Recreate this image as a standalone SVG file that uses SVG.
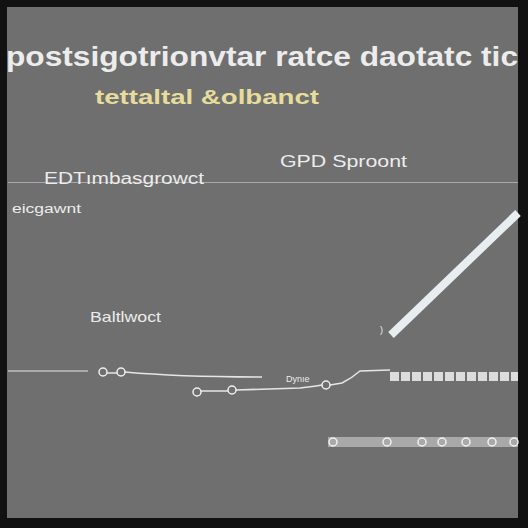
<svg xmlns="http://www.w3.org/2000/svg" width="528" height="528" viewBox="0 0 528 528">
<style>
.t{font-family:"Liberation Sans",Arial,sans-serif;fill:#ececec}
.ln{stroke:#e6e6e6;fill:none}
.c{fill:none;stroke:#f0f0f0;stroke-width:1.5}
</style>
<rect width="528" height="528" fill="#111"/>
<rect x="7" y="7" width="511" height="511" fill="#6f6f6f"/>
<g id="title">
<text class="t" x="6" y="66" font-size="27" font-weight="bold" textLength="512" lengthAdjust="spacingAndGlyphs">postsigotrionvtar ratce daotatc tic</text>
<text class="t" x="95" y="104" font-size="20" font-weight="bold" style="fill:#e6dc9c" textLength="224" lengthAdjust="spacingAndGlyphs">tettaltal &amp;olbanct</text>
</g>
<g id="connectors">
<line x1="8" y1="182.5" x2="518" y2="182.5" stroke-width="1" stroke="#a8a8a8"/>
<line x1="391" y1="335" x2="518" y2="213" stroke="#e8eef0" stroke-width="8"/>
<line class="ln" x1="8" y1="371" x2="88" y2="371" stroke-width="1"/>
<line class="ln" x1="107" y1="373" x2="117" y2="373" stroke-width="1.5"/>
<path class="ln" d="M125 372 Q180 377 262 377" stroke-width="1.5"/>
<line class="ln" x1="201" y1="391" x2="228" y2="391" stroke-width="1.5"/>
<path class="ln" d="M236 390 L300 388 Q318 386 322 385 M330 385 L342 383 Q352 378 360 371 L390 370" stroke-width="1.5"/>
<rect x="328" y="437" width="190" height="10" fill="#a9a9a9"/>
</g>
<g id="labels">
<text class="t" x="280" y="167" font-size="17" textLength="127" lengthAdjust="spacingAndGlyphs">GPD  Sproont</text>
<text class="t" x="44" y="184" font-size="16" textLength="160" lengthAdjust="spacingAndGlyphs">EDTımbasgrowct</text>
<text class="t" x="12" y="213" font-size="13" textLength="69" lengthAdjust="spacingAndGlyphs">eicgawnt</text>
<text class="t" x="90" y="322" font-size="15" textLength="71" lengthAdjust="spacingAndGlyphs">Baltlwoct</text>
<text class="t" x="286" y="382" font-size="9">Dynıe</text>
<text class="t" x="380" y="333" font-size="9">)</text>
</g>
<g id="nodes">
<circle class="c" cx="103" cy="372" r="4"/>
<circle class="c" cx="121" cy="372" r="4"/>
<circle class="c" cx="197" cy="392" r="4"/>
<circle class="c" cx="232" cy="390" r="4"/>
<circle class="c" cx="326" cy="385" r="4"/>
<g fill="#dcdcdc">
<rect x="390" y="372" width="9" height="9"/><rect x="401" y="372" width="9" height="9"/><rect x="412" y="372" width="9" height="9"/><rect x="423" y="372" width="9" height="9"/><rect x="434" y="372" width="9" height="9"/><rect x="445" y="372" width="9" height="9"/><rect x="456" y="372" width="9" height="9"/><rect x="467" y="372" width="9" height="9"/><rect x="478" y="372" width="9" height="9"/><rect x="489" y="372" width="9" height="9"/><rect x="500" y="372" width="9" height="9"/><rect x="511" y="372" width="7" height="9"/>
</g>
<circle class="c" cx="333" cy="442" r="4"/>
<circle class="c" cx="387" cy="442" r="4"/>
<circle class="c" cx="422" cy="442" r="4"/>
<circle class="c" cx="442" cy="442" r="4"/>
<circle class="c" cx="466" cy="442" r="4"/>
<circle class="c" cx="492" cy="442" r="4"/>
<circle class="c" cx="514" cy="442" r="4"/>
</g>
</svg>
